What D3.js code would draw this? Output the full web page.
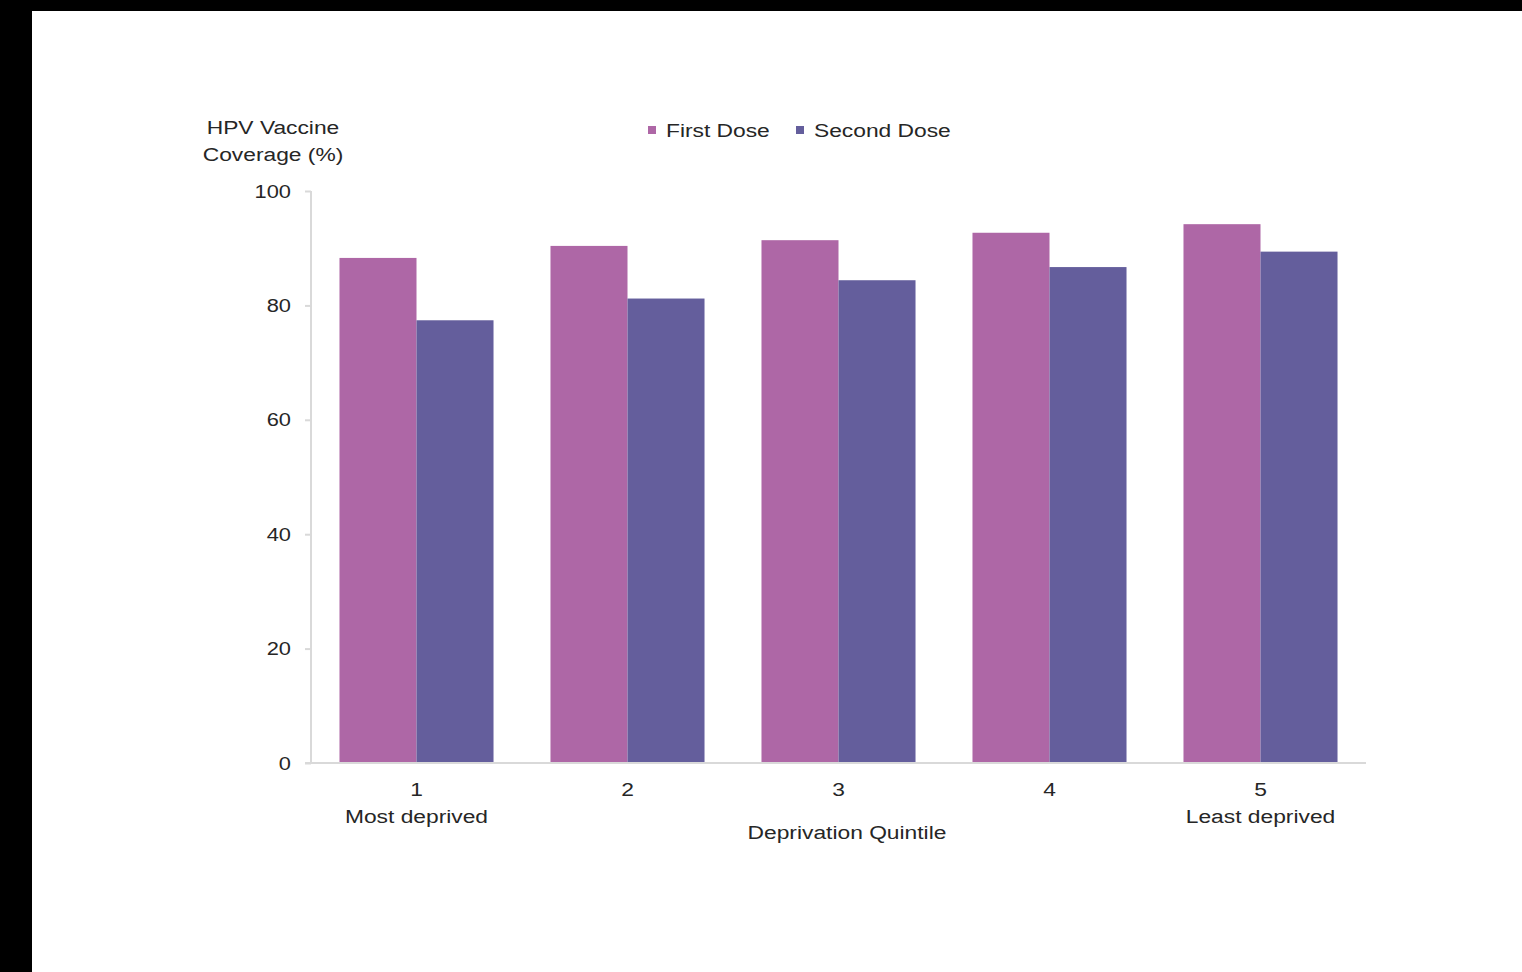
<!DOCTYPE html>
<html>
<head>
<meta charset="utf-8">
<script src="https://cdn.jsdelivr.net/npm/d3@7"></script>
<style>
  html, body { margin: 0; padding: 0; background: #000; }
  svg { display: block; }
  text { font-family: "Liberation Sans", Arial, sans-serif; fill: #262626; transform-box: fill-box; }
  .sx-end { transform-origin: right center; transform: scaleX(1.15); }
  .sx-mid { transform-origin: center center; transform: scaleX(1.2); }
  .sx-start { transform-origin: left center; transform: scaleX(1.2); }
</style>
</head>
<body>
<script>
const categories = ["1", "2", "3", "4", "5"];
const subLabels = ["Most deprived", "", "", "", "Least deprived"];
const seriesNames = ["First Dose", "Second Dose"];
const firstDose = [88.3, 90.4, 91.4, 92.7, 94.2];
const secondDose = [77.4, 81.2, 84.4, 86.7, 89.4];
const yTicks = [0, 20, 40, 60, 80, 100];
const colors = ["#ae67a6", "#645e9c"];

const W = 1522, H = 972;
const svg = d3.select("body").append("svg").attr("width", W).attr("height", H);

// white page area (black border left and top)
svg.append("rect").attr("x", 32).attr("y", 11).attr("width", W - 32).attr("height", H - 11).attr("fill", "#fff");

const x0 = 311, x1 = 1366, yTop = 191, yBot = 763;
const x = d3.scaleBand().domain(categories).range([x0, x1]).paddingInner(0.27).paddingOuter(0.135);
const xs = d3.scaleBand().domain(seriesNames).range([0, x.bandwidth()]);
const y = d3.scaleLinear().domain([0, 100]).range([yBot, yTop]);

const data = categories.map((c, i) => ({ c, vals: [firstDose[i], secondDose[i]] }));

// bars
const g = svg.append("g");
g.selectAll("g.grp").data(data).join("g").attr("class", "grp")
  .attr("transform", d => `translate(${x(d.c)},0)`)
  .selectAll("rect").data(d => d.vals.map((v, j) => ({ v, s: seriesNames[j], j })))
  .join("rect")
  .attr("x", d => xs(d.s))
  .attr("width", xs.bandwidth())
  .attr("y", d => y(d.v))
  .attr("height", d => y(0) - y(d.v))
  .attr("fill", d => colors[d.j]);

// y axis
const yAxis = svg.append("g").attr("transform", `translate(${x0},0)`)
  .call(d3.axisLeft(y).tickValues(yTicks).tickSize(6).tickPadding(14).tickFormat(d3.format("d")));
yAxis.select(".domain").attr("stroke", "#d9d9d9").attr("stroke-width", 2).attr("d", `M0,${yTop}V${yBot}`);
yAxis.selectAll(".tick line").attr("stroke", "#d9d9d9").attr("stroke-width", 2);
yAxis.selectAll(".tick text").attr("font-size", 19).attr("class", "sx-end").attr("fill", "#262626");

// x axis
const xAxis = svg.append("g").attr("transform", `translate(0,${yBot})`)
  .call(d3.axisBottom(x).tickSize(0).tickPadding(20));
xAxis.select(".domain").attr("stroke", "#d9d9d9").attr("stroke-width", 2).attr("d", `M${x0 - 6},0H${x1}`);
xAxis.selectAll(".tick text").attr("font-size", 19).attr("class", "sx-mid").attr("fill", "#262626");

// sub labels
svg.append("g").selectAll("text").data(categories.map((c, i) => ({ c, t: subLabels[i] })).filter(d => d.t))
  .join("text")
  .attr("class", "sx-mid")
  .attr("x", d => x(d.c) + x.bandwidth() / 2)
  .attr("y", 823)
  .attr("text-anchor", "middle")
  .attr("font-size", 19)
  .text(d => d.t);

// x title
svg.append("text").attr("class", "sx-mid").attr("x", 847).attr("y", 839)
  .attr("text-anchor", "middle").attr("font-size", 19).text("Deprivation Quintile");

// y title
const yt = svg.append("text").attr("text-anchor", "middle").attr("font-size", 19).attr("class", "sx-mid");
yt.append("tspan").attr("x", 273).attr("y", 134).text("HPV Vaccine");
yt.append("tspan").attr("x", 273).attr("y", 161).text("Coverage (%)");

// legend
const legX = [648, 796];
const leg = svg.append("g").selectAll("g").data(seriesNames).join("g")
  .attr("transform", (d, i) => `translate(${legX[i]},0)`);
leg.append("rect").attr("x", 0).attr("y", 126).attr("width", 8).attr("height", 8).attr("fill", (d, i) => colors[i]);
leg.append("text").attr("class", "sx-start").attr("x", 18).attr("y", 137).attr("font-size", 19).text(d => d);
</script>
</body>
</html>
